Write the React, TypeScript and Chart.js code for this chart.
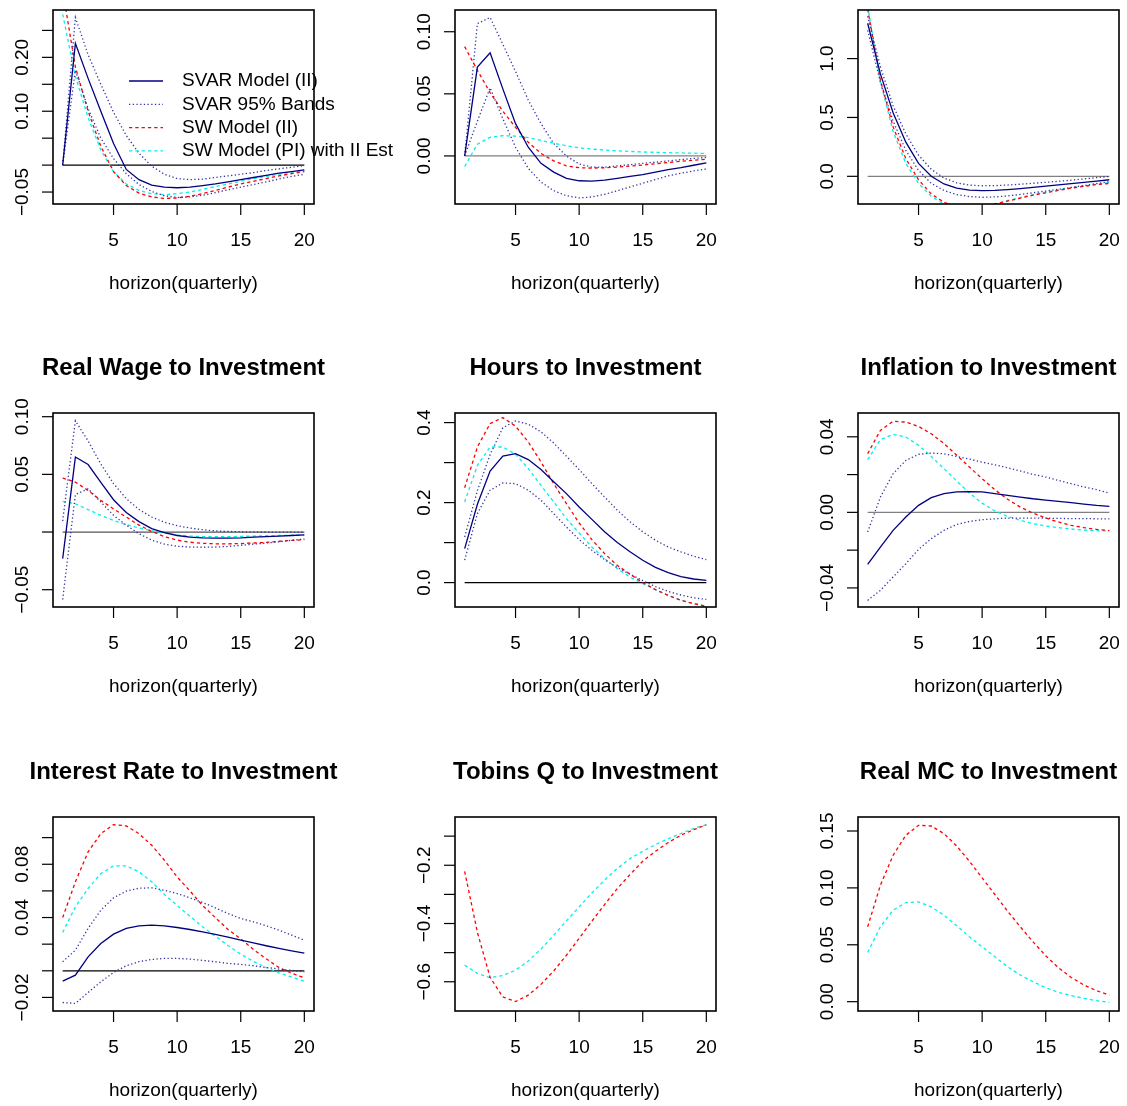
import { useEffect, useRef } from 'react';
import { Chart, registerables } from 'chart.js';

Chart.register(...registerables);

// ---------------------------------------------------------------------------
// Shared axis content
// ---------------------------------------------------------------------------
const HORIZON = [1, 2, 3, 4, 5, 6, 7, 8, 9, 10, 11, 12, 13, 14, 15, 16, 17, 18, 19, 20];
const X_TICKS = [5, 10, 15, 20];
const X_RANGE = [0.24, 20.76];
const X_TITLE = 'horizon(quarterly)';
const LEGEND_LABELS = ['SVAR Model (II)', 'SVAR 95% Bands', 'SW Model (II)', 'SW Model (PI) with II Est'];

// ---------------------------------------------------------------------------
// Row 1, left
// ---------------------------------------------------------------------------
const A_SVAR = [0, 0.226, 0.161, 0.1, 0.04, -0.008, -0.027, -0.037, -0.041, -0.042, -0.041, -0.038, -0.035, -0.031, -0.027, -0.023, -0.019, -0.015, -0.012, -0.009];
const A_UPPER = [0, 0.274, 0.205, 0.15, 0.098, 0.055, 0.022, -0.002, -0.017, -0.025, -0.027, -0.026, -0.023, -0.02, -0.017, -0.014, -0.01, -0.007, -0.004, -0.001];
const A_LOWER = [0, 0.176, 0.105, 0.05, 0.012, -0.016, -0.036, -0.049, -0.057, -0.06, -0.059, -0.056, -0.051, -0.046, -0.041, -0.036, -0.031, -0.026, -0.021, -0.017];
const A_SW = [0.325, 0.182, 0.1, 0.035, -0.012, -0.038, -0.052, -0.059, -0.062, -0.061, -0.058, -0.053, -0.047, -0.041, -0.035, -0.03, -0.025, -0.02, -0.016, -0.012];
const A_PI = [0.28, 0.165, 0.088, 0.028, -0.012, -0.035, -0.047, -0.053, -0.055, -0.053, -0.05, -0.045, -0.04, -0.035, -0.03, -0.025, -0.021, -0.017, -0.013, -0.01];
const A_Y_RANGE = [-0.0722, 0.2879];
const A_Y_TICKS = [-0.05, 0, 0.05, 0.1, 0.15, 0.2, 0.25];
const A_Y_LABELS = ['\u22120.05', '', '', '0.10', '', '0.20', ''];

// ---------------------------------------------------------------------------
// Row 1, middle
// ---------------------------------------------------------------------------
const B_SVAR = [0, 0.0715, 0.083, 0.054, 0.026, 0.007, -0.006, -0.013, -0.018, -0.02, -0.0203, -0.0195, -0.018, -0.0165, -0.015, -0.013, -0.011, -0.0095, -0.0075, -0.0055];
const B_UPPER = [0, 0.1065, 0.1115, 0.09, 0.068, 0.045, 0.026, 0.01, 0.0, -0.0065, -0.009, -0.009, -0.008, -0.007, -0.006, -0.005, -0.004, -0.003, -0.002, -0.0012];
const B_LOWER = [0, 0.028, 0.0548, 0.03, 0.007, -0.01, -0.021, -0.028, -0.032, -0.0338, -0.033, -0.031, -0.028, -0.025, -0.022, -0.019, -0.016, -0.014, -0.012, -0.0105];
const B_SW = [0.088, 0.069, 0.051, 0.036, 0.023, 0.011, 0.002, -0.004, -0.008, -0.0095, -0.0098, -0.0095, -0.009, -0.0082, -0.0073, -0.0063, -0.0053, -0.0043, -0.0035, -0.0027];
const B_PI = [-0.0085, 0.0095, 0.015, 0.0163, 0.016, 0.0148, 0.0125, 0.0102, 0.0082, 0.0065, 0.0055, 0.0047, 0.0041, 0.0036, 0.0032, 0.0029, 0.0026, 0.0024, 0.0022, 0.002];
const B_Y_RANGE = [-0.0387, 0.1175];
const B_Y_TICKS = [0, 0.05, 0.1];
const B_Y_LABELS = ['0.00', '0.05', '0.10'];

// ---------------------------------------------------------------------------
// Row 1, right
// ---------------------------------------------------------------------------
const C_SVAR = [1.3, 0.87, 0.54, 0.29, 0.11, 0.0, -0.065, -0.1, -0.118, -0.122, -0.12, -0.113, -0.104, -0.094, -0.084, -0.073, -0.062, -0.051, -0.04, -0.029];
const C_UPPER = [1.36, 0.93, 0.6, 0.36, 0.18, 0.06, -0.015, -0.055, -0.075, -0.08, -0.079, -0.074, -0.067, -0.059, -0.051, -0.042, -0.033, -0.022, -0.011, -0.001];
const C_LOWER = [1.24, 0.8, 0.47, 0.22, 0.05, -0.06, -0.12, -0.155, -0.172, -0.178, -0.175, -0.166, -0.154, -0.14, -0.125, -0.11, -0.094, -0.078, -0.061, -0.045];
const C_SW = [1.42, 0.82, 0.42, 0.15, -0.03, -0.15, -0.22, -0.26, -0.27, -0.26, -0.235, -0.21, -0.185, -0.16, -0.14, -0.12, -0.1, -0.085, -0.07, -0.06];
const C_PI = [1.45, 0.8, 0.38, 0.11, -0.06, -0.17, -0.235, -0.27, -0.275, -0.26, -0.235, -0.205, -0.18, -0.155, -0.135, -0.115, -0.097, -0.082, -0.067, -0.055];
const C_Y_RANGE = [-0.235, 1.4125];
const C_Y_TICKS = [0, 0.5, 1.0];
const C_Y_LABELS = ['0.0', '0.5', '1.0'];

// ---------------------------------------------------------------------------
// Real Wage to Investment
// ---------------------------------------------------------------------------
const WAGE_SVAR = [-0.023, 0.065, 0.0585, 0.043, 0.028, 0.017, 0.009, 0.003, -0.0005, -0.003, -0.0045, -0.005, -0.0052, -0.0052, -0.005, -0.0045, -0.004, -0.0035, -0.003, -0.0025];
const WAGE_UPPER = [0.0095, 0.0965, 0.079, 0.059, 0.042, 0.029, 0.0195, 0.013, 0.0085, 0.0055, 0.0035, 0.002, 0.001, 0.0005, 0.0003, 0.0001, 0.0, -0.0001, -0.0001, -0.0002];
const WAGE_LOWER = [-0.0585, 0.0325, 0.0375, 0.026, 0.0145, 0.006, -0.0015, -0.007, -0.0105, -0.0123, -0.013, -0.0132, -0.013, -0.0125, -0.0115, -0.0105, -0.0095, -0.0085, -0.0072, -0.006];
const WAGE_SW = [0.0468, 0.0433, 0.036, 0.0275, 0.02, 0.013, 0.006, 0.0005, -0.004, -0.007, -0.0088, -0.0098, -0.0102, -0.0102, -0.01, -0.0095, -0.009, -0.008, -0.0073, -0.0065];
const WAGE_PI = [0.0265, 0.0245, 0.0195, 0.0145, 0.01, 0.0065, 0.0035, 0.0012, -0.001, -0.0025, -0.0035, -0.004, -0.004, -0.004, -0.0038, -0.0035, -0.0032, -0.003, -0.0028, -0.0026];
const WAGE_Y_RANGE = [-0.065, 0.1032];
const WAGE_Y_TICKS = [-0.05, 0, 0.05, 0.1];
const WAGE_Y_LABELS = ['\u22120.05', '', '0.05', '0.10'];

// ---------------------------------------------------------------------------
// Hours to Investment
// ---------------------------------------------------------------------------
const HOURS_SVAR = [0.085, 0.196, 0.279, 0.316, 0.3225, 0.3075, 0.2825, 0.252, 0.2225, 0.189, 0.158, 0.127, 0.1, 0.077, 0.056, 0.038, 0.025, 0.015, 0.009, 0.0058];
const HOURS_UPPER = [0.114, 0.23, 0.32, 0.387, 0.404, 0.396, 0.377, 0.349, 0.316, 0.2825, 0.2475, 0.214, 0.181, 0.152, 0.127, 0.106, 0.089, 0.077, 0.066, 0.0575];
const HOURS_LOWER = [0.056, 0.1725, 0.231, 0.249, 0.2475, 0.231, 0.206, 0.1725, 0.139, 0.1075, 0.081, 0.0575, 0.0375, 0.021, 0.005, -0.01, -0.022, -0.031, -0.038, -0.042];
const HOURS_SW = [0.237, 0.339, 0.3975, 0.4125, 0.391, 0.3517, 0.3017, 0.2475, 0.1975, 0.149, 0.1075, 0.0725, 0.043, 0.021, 0.0, -0.0175, -0.032, -0.044, -0.0525, -0.059];
const HOURS_PI = [0.2017, 0.293, 0.339, 0.339, 0.321, 0.285, 0.243, 0.2017, 0.16, 0.124, 0.089, 0.06, 0.035, 0.014, -0.0025, -0.0175, -0.032, -0.044, -0.0525, -0.059];
const HOURS_Y_RANGE = [-0.061, 0.424];
const HOURS_Y_TICKS = [0, 0.1, 0.2, 0.3, 0.4];
const HOURS_Y_LABELS = ['0.0', '', '0.2', '', '0.4'];

// ---------------------------------------------------------------------------
// Inflation to Investment
// ---------------------------------------------------------------------------
const INFL_SVAR = [-0.0275, -0.0184, -0.0095, -0.0025, 0.0037, 0.0078, 0.0099, 0.0108, 0.011, 0.0108, 0.0099, 0.009, 0.0081, 0.0072, 0.0065, 0.0058, 0.0051, 0.0044, 0.0037, 0.0032];
const INFL_UPPER = [-0.0104, 0.0081, 0.0205, 0.0275, 0.0307, 0.0314, 0.031, 0.0296, 0.0282, 0.0266, 0.0252, 0.0236, 0.0219, 0.0201, 0.0187, 0.0169, 0.0152, 0.0134, 0.012, 0.0102];
const INFL_LOWER = [-0.0466, -0.0413, -0.0342, -0.0272, -0.0196, -0.0139, -0.0095, -0.0064, -0.0048, -0.0039, -0.0034, -0.003, -0.003, -0.003, -0.0031, -0.0032, -0.0033, -0.0033, -0.0034, -0.0034];
const INFL_SW = [0.0311, 0.0434, 0.0482, 0.0478, 0.0455, 0.0416, 0.0364, 0.0302, 0.024, 0.0178, 0.012, 0.0069, 0.0028, -0.0004, -0.003, -0.0051, -0.0069, -0.0081, -0.009, -0.0097];
const INFL_PI = [0.0279, 0.0385, 0.0413, 0.0399, 0.0355, 0.0296, 0.0231, 0.0166, 0.0102, 0.0049, 0.0007, -0.0021, -0.0042, -0.006, -0.0072, -0.0081, -0.0088, -0.0094, -0.0097, -0.0099];
const INFL_Y_RANGE = [-0.0501, 0.0526];
const INFL_Y_TICKS = [-0.04, -0.02, 0, 0.02, 0.04];
const INFL_Y_LABELS = ['\u22120.04', '', '0.00', '', '0.04'];

// ---------------------------------------------------------------------------
// Interest Rate to Investment
// ---------------------------------------------------------------------------
const RATE_SVAR = [-0.0078, -0.0033, 0.0105, 0.0205, 0.0275, 0.0318, 0.0338, 0.0343, 0.0338, 0.0325, 0.031, 0.0293, 0.0273, 0.0253, 0.023, 0.021, 0.0188, 0.0168, 0.015, 0.0133];
const RATE_UPPER = [0.0068, 0.0155, 0.0318, 0.0455, 0.0548, 0.0598, 0.062, 0.0623, 0.0605, 0.058, 0.0548, 0.0513, 0.0473, 0.043, 0.0393, 0.0368, 0.0338, 0.0305, 0.0268, 0.023];
const RATE_LOWER = [-0.0238, -0.0245, -0.0163, -0.0083, -0.0013, 0.0038, 0.0068, 0.0085, 0.0093, 0.0093, 0.0088, 0.0078, 0.0068, 0.0055, 0.0048, 0.0038, 0.0025, 0.0013, 0.0003, -0.0008];
const RATE_SW = [0.04, 0.0668, 0.0893, 0.103, 0.1098, 0.1088, 0.103, 0.0943, 0.083, 0.0705, 0.06, 0.049, 0.04, 0.031, 0.024, 0.016, 0.009, 0.0025, -0.0018, -0.0053];
const RATE_PI = [0.0288, 0.048, 0.0618, 0.073, 0.0788, 0.0788, 0.0743, 0.0668, 0.0573, 0.049, 0.041, 0.033, 0.026, 0.019, 0.0125, 0.007, 0.0025, -0.0015, -0.0048, -0.0078];
const RATE_Y_RANGE = [-0.0302, 0.1155];
const RATE_Y_TICKS = [-0.02, 0, 0.02, 0.04, 0.06, 0.08, 0.1];
const RATE_Y_LABELS = ['\u22120.02', '', '', '0.04', '', '0.08', ''];

// ---------------------------------------------------------------------------
// Tobins Q to Investment (model responses only)
// ---------------------------------------------------------------------------
const TOBIN_SW = [-0.221, -0.43, -0.585, -0.652, -0.668, -0.646, -0.609, -0.563, -0.509, -0.451, -0.392, -0.335, -0.28, -0.232, -0.186, -0.152, -0.122, -0.097, -0.078, -0.061];
const TOBIN_PI = [-0.543, -0.571, -0.586, -0.579, -0.56, -0.529, -0.488, -0.44, -0.391, -0.343, -0.295, -0.251, -0.211, -0.177, -0.152, -0.129, -0.109, -0.091, -0.074, -0.061];
const TOBIN_Y_RANGE = [-0.7004, -0.0343];
const TOBIN_Y_TICKS = [-0.6, -0.5, -0.4, -0.3, -0.2, -0.1];
const TOBIN_Y_LABELS = ['\u22120.6', '', '\u22120.4', '', '\u22120.2', ''];

// ---------------------------------------------------------------------------
// Real MC to Investment (model responses only)
// ---------------------------------------------------------------------------
const MC_SW = [0.0658, 0.1023, 0.1287, 0.1462, 0.155, 0.1544, 0.1477, 0.1368, 0.1234, 0.1088, 0.0942, 0.0795, 0.0658, 0.0526, 0.0404, 0.0298, 0.0213, 0.0146, 0.0096, 0.0058];
const MC_PI = [0.0433, 0.0658, 0.0804, 0.0871, 0.0877, 0.0833, 0.076, 0.0667, 0.057, 0.0482, 0.0395, 0.0307, 0.0234, 0.0175, 0.0123, 0.0082, 0.0053, 0.0029, 0.0009, -0.0006];
const MC_Y_RANGE = [-0.0082, 0.1623];
const MC_Y_TICKS = [0, 0.05, 0.1, 0.15];
const MC_Y_LABELS = ['0.00', '0.05', '0.10', '0.15'];

// ---------------------------------------------------------------------------
// Page layout (plot boxes of the 3 x 3 grid)
// ---------------------------------------------------------------------------
const PAGE_W = 1127;
const PAGE_H = 1106;
const COL_LEFT = [53, 455, 858];
const ROW_TOP = [10, 413, 817];
const BOX_W = 261;
const BOX_H = 194;

const FONT_FAMILY = '"Liberation Sans", Arial, Helvetica, sans-serif';

type LineStyle = { color: string; width: number; dash: number[] };

const STYLE: Record<string, LineStyle> = {
  svar: { color: '#000080', width: 1.3, dash: [] },
  band: { color: '#3434a6', width: 1.3, dash: [1.3, 2.4] },
  sw: { color: '#ff0000', width: 1.3, dash: [3.3, 3] },
  pi: { color: '#00f0f0', width: 1.3, dash: [3.3, 3] },
};

type Panel = {
  title: string;
  col: number;
  row: number;
  yRange: number[];
  yTicks: number[];
  yLabels: string[];
  svar?: number[];
  upper?: number[];
  lower?: number[];
  sw: number[];
  pi: number[];
  zeroColor?: string;
  legend?: boolean;
};

const PANELS: Panel[] = [
  { title: '', col: 0, row: 0, yRange: A_Y_RANGE, yTicks: A_Y_TICKS, yLabels: A_Y_LABELS, svar: A_SVAR, upper: A_UPPER, lower: A_LOWER, sw: A_SW, pi: A_PI, zeroColor: '#000000', legend: true },
  { title: '', col: 1, row: 0, yRange: B_Y_RANGE, yTicks: B_Y_TICKS, yLabels: B_Y_LABELS, svar: B_SVAR, upper: B_UPPER, lower: B_LOWER, sw: B_SW, pi: B_PI, zeroColor: '#808080' },
  { title: '', col: 2, row: 0, yRange: C_Y_RANGE, yTicks: C_Y_TICKS, yLabels: C_Y_LABELS, svar: C_SVAR, upper: C_UPPER, lower: C_LOWER, sw: C_SW, pi: C_PI, zeroColor: '#808080' },
  { title: 'Real Wage to Investment', col: 0, row: 1, yRange: WAGE_Y_RANGE, yTicks: WAGE_Y_TICKS, yLabels: WAGE_Y_LABELS, svar: WAGE_SVAR, upper: WAGE_UPPER, lower: WAGE_LOWER, sw: WAGE_SW, pi: WAGE_PI, zeroColor: '#555555' },
  { title: 'Hours to Investment', col: 1, row: 1, yRange: HOURS_Y_RANGE, yTicks: HOURS_Y_TICKS, yLabels: HOURS_Y_LABELS, svar: HOURS_SVAR, upper: HOURS_UPPER, lower: HOURS_LOWER, sw: HOURS_SW, pi: HOURS_PI, zeroColor: '#000000' },
  { title: 'Inflation to Investment', col: 2, row: 1, yRange: INFL_Y_RANGE, yTicks: INFL_Y_TICKS, yLabels: INFL_Y_LABELS, svar: INFL_SVAR, upper: INFL_UPPER, lower: INFL_LOWER, sw: INFL_SW, pi: INFL_PI, zeroColor: '#808080' },
  { title: 'Interest Rate to Investment', col: 0, row: 2, yRange: RATE_Y_RANGE, yTicks: RATE_Y_TICKS, yLabels: RATE_Y_LABELS, svar: RATE_SVAR, upper: RATE_UPPER, lower: RATE_LOWER, sw: RATE_SW, pi: RATE_PI, zeroColor: '#000000' },
  { title: 'Tobins Q to Investment', col: 1, row: 2, yRange: TOBIN_Y_RANGE, yTicks: TOBIN_Y_TICKS, yLabels: TOBIN_Y_LABELS, sw: TOBIN_SW, pi: TOBIN_PI },
  { title: 'Real MC to Investment', col: 2, row: 2, yRange: MC_Y_RANGE, yTicks: MC_Y_TICKS, yLabels: MC_Y_LABELS, sw: MC_SW, pi: MC_PI },
];

function toPoints(values: number[]) {
  return HORIZON.map((x, i) => ({ x, y: values[i] }));
}

function lineDataset(values: { x: number; y: number }[], s: LineStyle) {
  return {
    data: values,
    borderColor: s.color,
    borderWidth: s.width,
    borderDash: s.dash,
    pointRadius: 0,
    tension: 0,
    fill: false,
  };
}

function panelFrame(p: Panel) {
  const boxL = COL_LEFT[p.col];
  const boxT = ROW_TOP[p.row];
  const boxR = boxL + BOX_W;
  const boxB = boxT + BOX_H;
  const left = Math.max(0, boxL - 56);
  const top = Math.max(0, boxT - 70);
  const right = Math.min(PAGE_W, boxR + (p.legend ? 95 : 40));
  const bottom = Math.min(PAGE_H, boxB + 95);
  return {
    left,
    top,
    width: right - left,
    height: bottom - top,
    padding: { left: boxL - left, top: boxT - top, right: right - boxR, bottom: bottom - boxB },
  };
}

// Draws the base-graphics style frame: box, ticks, rotated y labels, titles, legend.
function framePlugin(p: Panel) {
  return {
    id: 'baseFrame',
    afterDraw(chart: any) {
      const { ctx, chartArea: a } = chart;
      const xs = chart.scales.x;
      const ys = chart.scales.y;
      ctx.save();
      ctx.strokeStyle = '#000';
      ctx.fillStyle = '#000';

      // box
      ctx.lineWidth = 1.6;
      ctx.setLineDash([]);
      ctx.strokeRect(a.left, a.top, a.right - a.left, a.bottom - a.top);

      ctx.font = `19px ${FONT_FAMILY}`;
      ctx.lineWidth = 1.2;

      // x axis
      ctx.textAlign = 'center';
      ctx.textBaseline = 'middle';
      for (const t of X_TICKS) {
        const px = xs.getPixelForValue(t);
        ctx.beginPath();
        ctx.moveTo(px, a.bottom);
        ctx.lineTo(px, a.bottom + 11);
        ctx.stroke();
        ctx.fillText(String(t), px, a.bottom + 37);
      }
      ctx.fillText(X_TITLE, (a.left + a.right) / 2, a.bottom + 80);

      // y axis
      p.yTicks.forEach((v, i) => {
        const py = ys.getPixelForValue(v);
        ctx.beginPath();
        ctx.moveTo(a.left - 11, py);
        ctx.lineTo(a.left, py);
        ctx.stroke();
        const label = p.yLabels[i];
        if (label) {
          ctx.save();
          ctx.translate(a.left - 30, py);
          ctx.rotate(-Math.PI / 2);
          ctx.fillText(label, 0, 0);
          ctx.restore();
        }
      });

      // title
      if (p.title) {
        ctx.font = `bold 24px ${FONT_FAMILY}`;
        ctx.fillText(p.title, (a.left + a.right) / 2, a.top - 45);
      }

      // legend
      if (p.legend) {
        const styles = [STYLE.svar, STYLE.band, STYLE.sw, STYLE.pi];
        ctx.font = `19px ${FONT_FAMILY}`;
        ctx.textAlign = 'left';
        LEGEND_LABELS.forEach((label, i) => {
          const y = a.top + 71 + i * 23.3;
          const s = styles[i];
          ctx.strokeStyle = s.color;
          ctx.lineWidth = s.width;
          ctx.setLineDash(s.dash);
          ctx.beginPath();
          ctx.moveTo(a.left + 76, y);
          ctx.lineTo(a.left + 110, y);
          ctx.stroke();
          ctx.setLineDash([]);
          ctx.fillStyle = '#000';
          ctx.fillText(label, a.left + 129, y);
        });
      }
      ctx.restore();
    },
  };
}

function PanelChart({ p }: { p: Panel }) {
  const ref = useRef<HTMLCanvasElement>(null);
  const f = panelFrame(p);

  useEffect(() => {
    const canvas = ref.current;
    if (!canvas) return;
    const datasets: any[] = [];
    if (p.svar) datasets.push(lineDataset(toPoints(p.svar), STYLE.svar));
    if (p.lower) datasets.push(lineDataset(toPoints(p.lower), STYLE.band));
    if (p.upper) datasets.push(lineDataset(toPoints(p.upper), STYLE.band));
    datasets.push(lineDataset(toPoints(p.sw), STYLE.sw));
    datasets.push(lineDataset(toPoints(p.pi), STYLE.pi));
    if (p.zeroColor) {
      const first = HORIZON[0];
      const last = HORIZON[HORIZON.length - 1];
      datasets.push(
        lineDataset(
          [
            { x: first, y: 0 },
            { x: last, y: 0 },
          ],
          { color: p.zeroColor, width: 1.3, dash: [] }
        )
      );
    }

    const chart = new Chart(canvas, {
      type: 'line',
      data: { datasets },
      options: {
        animation: false,
        responsive: false,
        maintainAspectRatio: false,
        devicePixelRatio: 1,
        events: [],
        layout: { padding: f.padding },
        scales: {
          x: { type: 'linear', min: X_RANGE[0], max: X_RANGE[1], display: false },
          y: { type: 'linear', min: p.yRange[0], max: p.yRange[1], display: false },
        },
        plugins: {
          legend: { display: false },
          tooltip: { enabled: false },
          title: { display: false },
        },
      },
      plugins: [framePlugin(p)],
    } as any);
    return () => chart.destroy();
  }, []);

  return (
    <canvas
      ref={ref}
      width={f.width}
      height={f.height}
      style={{ position: 'absolute', left: f.left, top: f.top, width: f.width, height: f.height }}
    />
  );
}

export default function App() {
  return (
    <div
      style={{
        position: 'absolute',
        left: 0,
        top: 0,
        width: PAGE_W,
        height: PAGE_H,
        background: '#ffffff',
        overflow: 'hidden',
      }}
    >
      {PANELS.map((p, i) => (
        <PanelChart key={i} p={p} />
      ))}
    </div>
  );
}
